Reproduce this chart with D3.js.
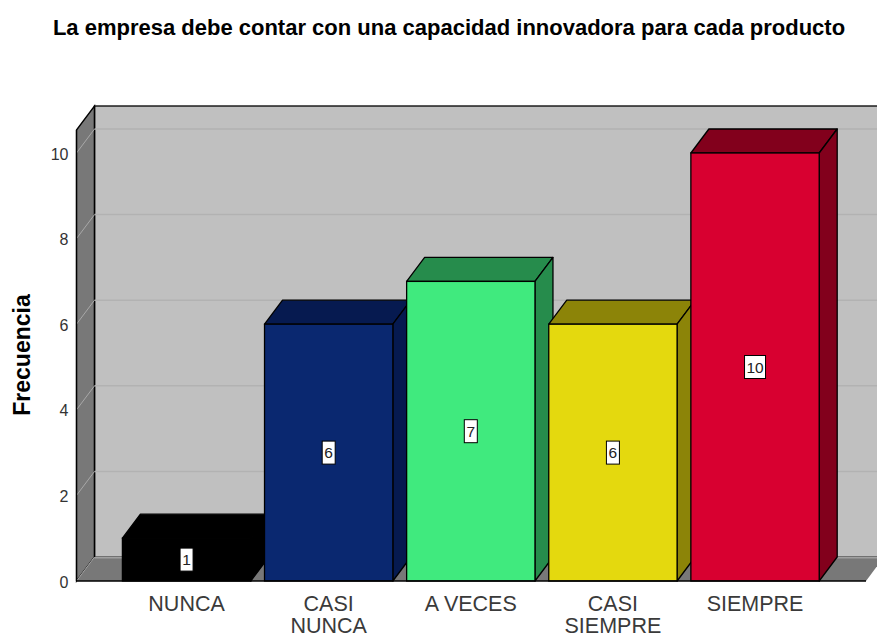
<!DOCTYPE html>
<html><head><meta charset="utf-8">
<script src="https://cdn.jsdelivr.net/npm/d3@7/dist/d3.min.js"></script>
<style>html,body{margin:0;padding:0;background:#fff}svg{display:block}text{font-family:"Liberation Sans",Arial,sans-serif}</style>
</head><body><svg id="c" width="877" height="635"></svg>
<script>
const categories=["NUNCA","CASI NUNCA","A VECES","CASI SIEMPRE","SIEMPRE"];
const categoryLines=[["NUNCA"],["CASI","NUNCA"],["A VECES"],["CASI","SIEMPRE"],["SIEMPRE"]];
const values=[1,6,7,6,10];
const faceColors=["#000000","#0a2870","#40ea7e","#e4d90e","#d80030"];
const topColors=["#000000","#061a50","#268c4c","#8c8408","#82001c"];
const tickValues=[0,2,4,6,8,10];
const titleText="La empresa debe contar con una capacidad innovadora para cada producto";
const yLabel="Frecuencia";

const W=877,H=635,dx=18,dy=-24;
const svg=d3.select("#c");
const y=d3.scaleLinear().domain([0,10]).range([581,153]);
const x=d3.scaleBand().domain(categories).range([115.3,826.3]).paddingInner(0.097).paddingOuter(0.05);
const yTop=130,xL=76.5,xR=866;
const poly=p=>p.map(d=>d.join(",")).join(" ");

svg.append("text").attr("x",449).attr("y",35).attr("text-anchor","middle")
  .attr("font-size",22).attr("font-weight","bold").attr("fill","#000").text(titleText);

// back wall
svg.append("rect").attr("x",xL+dx).attr("y",yTop+dy).attr("width",W-xL-dx+2).attr("height",y(0)-yTop)
  .attr("fill","#c0c0c0").attr("stroke","#000").attr("stroke-width",1.3);
// left wall
svg.append("polygon").attr("points",poly([[xL,yTop],[xL+dx,yTop+dy],[xL+dx,y(0)+dy],[xL,y(0)]]))
  .attr("fill","#787878").attr("stroke","#000").attr("stroke-width",1.3);
// floor
svg.append("polygon").attr("points",poly([[xL,y(0)],[xL+dx,y(0)+dy],[W+2,y(0)+dy],[xR+dx,y(0)+dy],[xR,y(0)]]))
  .attr("fill","#787878");
svg.append("line").attr("x1",xL+dx).attr("x2",W).attr("y1",y(0)+dy+0.5).attr("y2",y(0)+dy+0.5)
  .attr("stroke","#a0a0a0").attr("stroke-width",2);
svg.append("line").attr("x1",xL+dx).attr("x2",xL+dx).attr("y1",yTop+dy).attr("y2",y(0)+dy).attr("stroke","#000").attr("stroke-width",1.3);
// gridlines
tickValues.filter(v=>v>0).forEach(v=>{
  svg.append("line").attr("x1",xL+dx).attr("x2",W).attr("y1",y(v)+dy).attr("y2",y(v)+dy).attr("stroke","#b2b2b2").attr("stroke-width",1.5);
  svg.append("line").attr("x1",xL).attr("x2",xL+dx).attr("y1",y(v)).attr("y2",y(v)+dy).attr("stroke","#a8a8a8").attr("stroke-width",1);
});
svg.append("line").attr("x1",xL).attr("x2",xL+dx).attr("y1",y(0)).attr("y2",y(0)+dy).attr("stroke","#a8a8a8").attr("stroke-width",1);
// front edges
svg.append("line").attr("x1",xL).attr("x2",xL).attr("y1",yTop).attr("y2",y(0)).attr("stroke","#000").attr("stroke-width",1.3);

// bars
const bars=svg.append("g").selectAll("g").data(categories).join("g");
const sw=1.3;
bars.append("polygon").attr("points",(c,i)=>{const l=x(c),r=l+x.bandwidth(),t=y(values[i]);
  return poly([[l,t],[l+dx,t+dy],[r+dx,t+dy],[r,t]]);}).attr("fill",(c,i)=>topColors[i]).attr("stroke","#000").attr("stroke-width",sw).attr("stroke-linejoin","round");
bars.append("polygon").attr("points",(c,i)=>{const r=x(c)+x.bandwidth(),t=y(values[i]),b=y(0);
  return poly([[r,t],[r+dx,t+dy],[r+dx,b+dy],[r,b]]);}).attr("fill",(c,i)=>topColors[i]).attr("stroke","#000").attr("stroke-width",sw).attr("stroke-linejoin","round");
bars.append("rect").attr("x",c=>x(c)).attr("y",(c,i)=>y(values[i])).attr("width",x.bandwidth())
  .attr("height",(c,i)=>y(0)-y(values[i])).attr("fill",(c,i)=>faceColors[i]).attr("stroke","#000").attr("stroke-width",sw);

// baseline
svg.append("line").attr("x1",xL).attr("x2",xR).attr("y1",y(0)).attr("y2",y(0)).attr("stroke","#000").attr("stroke-width",1.3);

// value labels
const lab=svg.append("g").selectAll("g").data(categories).join("g")
  .attr("transform",(c,i)=>`translate(${x(c)+x.bandwidth()/2},${y(values[i]/2)})`);
lab.append("rect").attr("x",(c,i)=>values[i]>=10?-10.5:-6.5).attr("y",-11.5).attr("width",(c,i)=>values[i]>=10?21:13).attr("height",23)
  .attr("fill","#fff").attr("stroke","#000").attr("stroke-width",1);
lab.append("text").attr("text-anchor","middle").attr("y",5.5).attr("font-size",15.5).attr("fill","#222").text((c,i)=>values[i]);

// y axis
const yAxis=d3.axisLeft(y).tickValues(tickValues).tickSize(0).tickPadding(8).tickFormat(d3.format("d"));
const ga=svg.append("g").attr("transform",`translate(${xL},0)`).call(yAxis);
ga.select(".domain").remove();
ga.selectAll("text").attr("font-size",16).attr("fill","#333").attr("font-family",null).attr("dy",null).attr("y",6);

// x labels
svg.append("g").selectAll("text").data(categories).join("text")
  .attr("text-anchor","middle").attr("font-size",21.5).attr("fill","#3a3a3a")
  .attr("x",c=>x(c)+x.bandwidth()/2).attr("y",611)
  .each(function(c,i){
    d3.select(this).selectAll("tspan").data(categoryLines[i]).join("tspan")
      .attr("x",x(c)+x.bandwidth()/2).attr("dy",(d,j)=>j?22:0).text(d=>d);
  });

svg.append("text").attr("transform","translate(29.5,355) rotate(-90)").attr("text-anchor","middle")
  .attr("font-size",23).attr("font-weight","bold").attr("fill","#000").text(yLabel);
</script></body></html>
